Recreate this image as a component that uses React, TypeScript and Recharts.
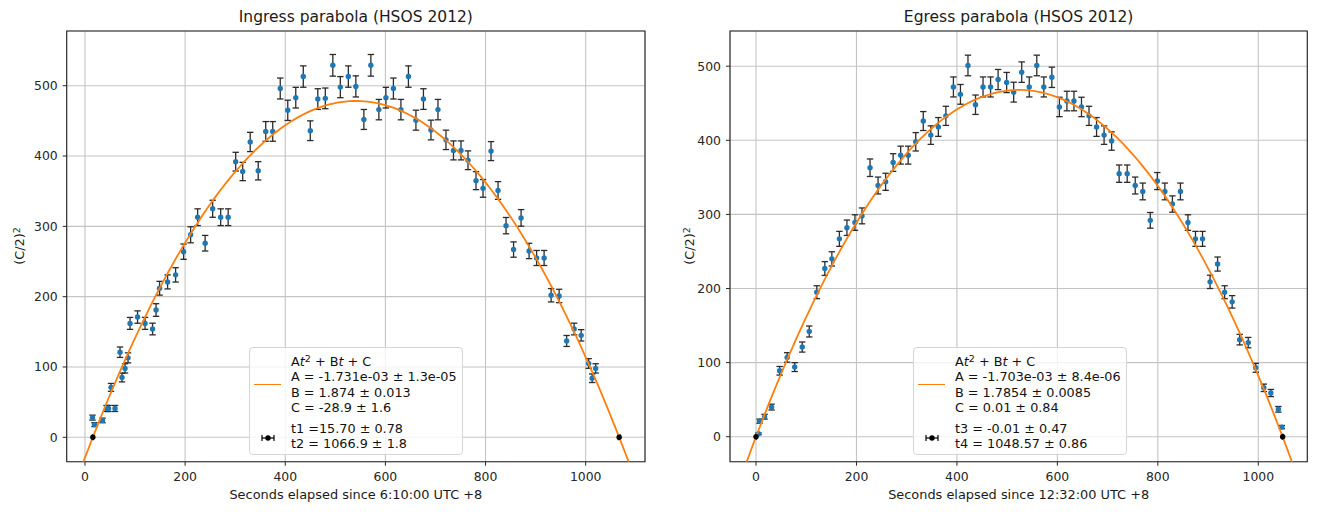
import { ComposedChart, Scatter, ErrorBar, XAxis, YAxis, CartesianGrid, ReferenceArea } from 'recharts';

const FONT = '"DejaVu Sans", sans-serif';
const X_TICKS = [0, 200, 400, 600, 800, 1000];
const Y_TICKS = [0, 100, 200, 300, 400, 500];

// ingress: seconds since 6:10:00, (C/2)^2 and its error
const ingressT = [
  15, 19, 35, 43, 47, 52, 60, 70, 74, 80, 86, 90, 105, 120, 135, 142, 149, 165, 181, 197,
  211, 225, 240, 255, 271, 286, 301, 315, 330, 346, 361, 375, 390, 405, 421, 436, 450, 465, 480, 495,
  510, 526, 541, 557, 571, 587, 601, 616, 631, 646, 661, 676, 691, 705, 721, 736, 751, 765, 781, 795,
  811, 825, 841, 856, 871, 887, 902, 917, 931, 947, 962, 977, 991, 1006, 1013, 1020,
];
const ingressY = [
  28, 18, 24, 41, 41, 71, 41, 121, 85, 98, 113, 162, 171, 162, 154, 181, 212, 221, 231, 264,
  288, 313, 276, 325, 313, 313, 392, 378, 420, 379, 435, 435, 496, 465, 483, 513, 436, 481, 482, 529,
  498, 513, 499, 452, 529, 466, 483, 496, 466, 513, 451, 481, 437, 466, 423, 408, 408, 394, 365, 354,
  407, 351, 301, 267, 312, 265, 255, 255, 202, 201, 137, 154, 145, 105, 84, 98,
];
const ingressErr = [
  3.5, 2.8, 3.3, 4.3, 4.3, 5.6, 4.3, 7.4, 6.2, 6.6, 7.1, 8.5, 8.8, 8.5, 8.3, 9.0, 9.8, 10.0, 10.2, 10.9,
  11.4, 11.9, 11.1, 12.1, 11.9, 11.9, 13.3, 13.0, 13.7, 13.0, 14.0, 14.0, 14.9, 14.4, 14.7, 15.2, 14.0, 14.7, 14.7, 15.4,
  15.0, 15.2, 15.0, 14.2, 15.4, 14.5, 14.7, 14.9, 14.5, 15.2, 14.2, 14.7, 14.0, 14.5, 13.8, 13.5, 13.5, 13.3, 12.8, 12.6,
  13.5, 12.6, 11.6, 10.9, 11.8, 10.9, 10.7, 10.7, 9.5, 9.5, 7.8, 8.3, 8.1, 6.9, 6.1, 6.6,
];

// egress: seconds since 12:32:00
const egressT = [
  5, 7, 17, 31, 47, 62, 77, 92, 106, 121, 137, 151, 166, 181, 197, 211, 227, 243, 258, 273,
  288, 303, 318, 333, 348, 363, 378, 393, 407, 422, 437, 452, 467, 482, 499, 513, 529, 544, 559, 573,
  589, 604, 619, 633, 648, 663, 678, 693, 708, 723, 739, 755, 770, 785, 799, 814, 829, 845, 860, 875,
  889, 904, 919, 933, 948, 963, 980, 995, 1011, 1025, 1040, 1047,
];
const egressY = [
  4, 21, 27, 40, 89, 107, 94, 121, 142, 195, 227, 240, 267, 282, 289, 298, 363, 339, 344, 370,
  380, 380, 398, 426, 407, 418, 433, 472, 462, 501, 448, 472, 472, 482, 478, 465, 492, 472, 501, 472,
  485, 445, 453, 453, 445, 433, 418, 407, 399, 355, 355, 339, 331, 292, 345, 331, 314, 331, 289, 267,
  267, 209, 233, 195, 182, 131, 127, 93, 66, 59, 37, 13,
];
const egressErr = [
  1.2, 2.8, 3.2, 3.9, 5.8, 6.4, 6.0, 6.8, 7.4, 8.7, 9.3, 9.6, 10.1, 10.4, 10.5, 10.7, 11.8, 11.4, 11.5, 11.9,
  12.1, 12.1, 12.4, 12.8, 12.5, 12.7, 12.9, 13.5, 13.3, 13.9, 13.1, 13.5, 13.5, 13.6, 13.6, 13.4, 13.8, 13.5, 13.9, 13.5,
  13.7, 13.1, 13.2, 13.2, 13.1, 12.9, 12.7, 12.5, 12.4, 11.7, 11.7, 11.4, 11.3, 10.6, 11.5, 11.3, 11.0, 11.3, 10.5, 10.1,
  10.1, 9.0, 9.5, 8.7, 8.4, 7.1, 7.0, 6.0, 5.0, 4.8, 3.8, 2.2,
];

// fitted parabola coefficients and contact times
const ingressFit = [-1.731e-3, 1.874, -28.9];
const ingressContacts = [15.70, 1066.9];
const ingressContactErr = [0.78, 1.8];
const egressFit = [-1.703e-3, 1.7854, 0.01];
const egressContacts = [-0.01, 1048.57];
const egressContactErr = [0.47, 0.86];

const ingressLegend = [
  'A = -1.731e-03 ± 1.3e-05',
  'B = 1.874 ± 0.013',
  'C = -28.9 ± 1.6',
  't1 =15.70 ± 0.78',
  't2 = 1066.9 ± 1.8',
];
const egressLegend = [
  'A = -1.703e-03 ± 8.4e-06',
  'B = 1.7854 ± 0.0085',
  'C = 0.01 ± 0.84',
  't3 = -0.01 ± 0.47',
  't4 = 1048.57 ± 0.86',
];

const toPoints = (t: number[], y: number[], e: number[]) => t.map((v, i) => ({ x: v, y: y[i], err: e[i] }));

const fitCurve = ([A, B, C]: number[], lo: number, hi: number) => {
  const pts = [];
  for (let t = lo; t <= hi; t += 8) pts.push({ x: t, y: A * t * t + B * t + C });
  return pts;
};

const NoDot = () => <g />;

const BlueDot = (p: any) => <circle cx={p.cx} cy={p.cy} r={2.7} fill="#1f77b4" />;
const BlackDot = (p: any) => <circle cx={p.cx} cy={p.cy} r={2.7} fill="#000" />;

const SUP: React.CSSProperties = { fontSize: 9.5, verticalAlign: 'top', position: 'relative', top: -3 };

interface PanelProps {
  left: number;
  width: number;
  margin: { top: number; right: number; bottom: number; left: number };
  xDomain: [number, number];
  yDomain: [number, number];
  title: string;
  xLabel: string;
  yLabelX: number;
  points: { x: number; y: number; err: number }[];
  fit: number[];
  contacts: number[];
  contactErr: number[];
  legend: string[];
  legendLeft: number;
}

function Panel(p: PanelProps) {
  const plotLeft = p.margin.left + 46;
  const plotRight = p.width - p.margin.right;
  const midX = (plotLeft + plotRight) / 2;
  const contactPts = p.contacts.map((t, i) => ({ x: t, y: 0, xerr: p.contactErr[i] }));
  const curve = fitCurve(p.fit, p.xDomain[0] - 20, p.xDomain[1] + 20);
  const row = (top: number): React.CSSProperties => ({ position: 'absolute', left: 40.7, top, whiteSpace: 'nowrap', lineHeight: '15px' });

  return (
    <div style={{ position: 'absolute', left: p.left, top: 0, width: p.width, height: 512 }}>
      <div style={{ position: 'absolute', left: midX - 200, width: 400, top: 8, textAlign: 'center', fontSize: 15.5, color: '#1a1a1a', lineHeight: '18px' }}>
        {p.title}
      </div>
      <div style={{ position: 'absolute', left: midX - 200, width: 400, top: 487, textAlign: 'center', fontSize: 12.9, color: '#1a1a1a', lineHeight: '15px' }}>
        {p.xLabel}
      </div>
      <div style={{ position: 'absolute', left: p.yLabelX - 30, top: 238, width: 60, textAlign: 'center', fontSize: 12.9, color: '#1a1a1a', lineHeight: '16px', transform: 'rotate(-90deg)' }}>
        (C/2)<sup style={SUP}>2</sup>
      </div>
      <ComposedChart width={p.width} height={512} margin={p.margin} style={{ position: 'absolute', left: 0, top: 0 }}>
        <CartesianGrid stroke="#c4c4c4" strokeWidth={1.1} />
        <XAxis
          type="number"
          dataKey="x"
          domain={p.xDomain}
          allowDataOverflow
          ticks={X_TICKS}
          height={30}
          axisLine={false}
          tickSize={4}
          tickMargin={6}
          tickLine={{ stroke: '#262626' }}
          tick={{ fill: '#262626', fontSize: 12.4, fontFamily: FONT }}
        />
        <YAxis
          type="number"
          dataKey="y"
          domain={p.yDomain}
          allowDataOverflow
          ticks={Y_TICKS}
          width={46}
          axisLine={false}
          tickSize={4}
          tickMargin={5}
          tickLine={{ stroke: '#262626' }}
          tick={{ fill: '#262626', fontSize: 12.4, fontFamily: FONT }}
        />
        <Scatter data={p.points} dataKey="y" shape={BlueDot} isAnimationActive={false}>
          <ErrorBar dataKey="err" direction="y" width={3.2} stroke="#2b2b2b" strokeWidth={1.3} />
        </Scatter>
        <Scatter
          data={curve}
          dataKey="y"
          line={{ stroke: '#ff7f0e', strokeWidth: 1.8 }}
          lineType="joint"
          shape={NoDot}
          isAnimationActive={false}
        />
        <Scatter data={contactPts} dataKey="y" shape={BlackDot} isAnimationActive={false}>
          <ErrorBar dataKey="xerr" direction="x" width={3} stroke="#000" strokeWidth={1.2} />
        </Scatter>
        <ReferenceArea
          x1={p.xDomain[0]}
          x2={p.xDomain[1]}
          y1={p.yDomain[0]}
          y2={p.yDomain[1]}
          fill="none"
          stroke="#262626"
          strokeWidth={1.1}
        />
      </ComposedChart>
      <div
        style={{
          position: 'absolute',
          left: p.legendLeft,
          top: 346.7,
          width: 213.5,
          height: 108.3,
          boxSizing: 'border-box',
          border: '1px solid #d6d6d6',
          borderRadius: 4,
          background: 'rgba(255,255,255,0.8)',
          fontSize: 12.8,
          color: '#111',
        }}
      >
        <div style={{ position: 'absolute', left: 4, top: 36, width: 27, height: 0, borderTop: '1.8px solid #ff7f0e' }} />
        <svg width={16} height={8} style={{ position: 'absolute', left: 10, top: 86 }}>
          <line x1={2} x2={14} y1={4} y2={4} stroke="#000" strokeWidth={1.2} />
          <line x1={2} x2={2} y1={1} y2={7} stroke="#000" strokeWidth={1.2} />
          <line x1={14} x2={14} y1={1} y2={7} stroke="#000" strokeWidth={1.2} />
          <circle cx={8} cy={4} r={2.7} fill="#000" />
        </svg>
        <div style={row(6.3)}>
          A<i>t</i>
          <sup style={SUP}>2</sup> + B<i>t</i> + C
        </div>
        <div style={row(21.8)}>{p.legend[0]}</div>
        <div style={row(37.3)}>{p.legend[1]}</div>
        <div style={row(52.8)}>{p.legend[2]}</div>
        <div style={row(73.5)}>{p.legend[3]}</div>
        <div style={row(88.5)}>{p.legend[4]}</div>
      </div>
    </div>
  );
}

export default function App() {
  return (
    <div style={{ position: 'absolute', left: 0, top: 0, width: 1319, height: 512, background: '#fff', fontFamily: FONT }}>
      <Panel
        left={0}
        width={660}
        margin={{ top: 31, right: 15, bottom: 20.3, left: 20.7 }}
        xDomain={[-36.5, 1118.5]}
        yDomain={[-34.7, 577.8]}
        title="Ingress parabola (HSOS 2012)"
        xLabel="Seconds elapsed since 6:10:00 UTC +8"
        yLabelX={20}
        points={toPoints(ingressT, ingressY, ingressErr)}
        fit={ingressFit}
        contacts={ingressContacts}
        contactErr={ingressContactErr}
        legend={ingressLegend}
        legendLeft={249.3}
      />
      <Panel
        left={660}
        width={659}
        margin={{ top: 31, right: 11.7, bottom: 20.3, left: 24 }}
        xDomain={[-51.8, 1097.6]}
        yDomain={[-33.7, 547.5]}
        title="Egress parabola (HSOS 2012)"
        xLabel="Seconds elapsed since 12:32:00 UTC +8"
        yLabelX={30}
        points={toPoints(egressT, egressY, egressErr)}
        fit={egressFit}
        contacts={egressContacts}
        contactErr={egressContactErr}
        legend={egressLegend}
        legendLeft={253.3}
      />
    </div>
  );
}
